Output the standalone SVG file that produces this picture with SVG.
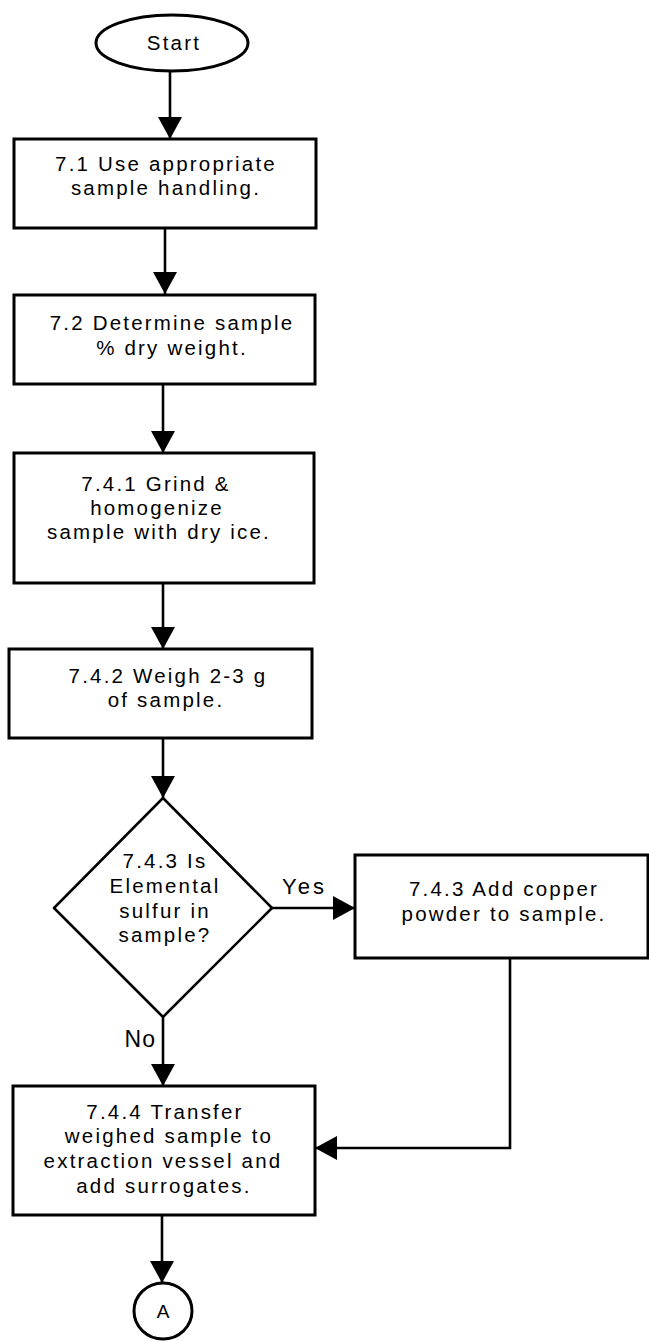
<svg xmlns="http://www.w3.org/2000/svg" width="649" height="1341" viewBox="0 0 649 1341">
<defs>
<style>
.shape{fill:#fff;stroke:#000;stroke-width:3}
.dia{fill:#fff;stroke:#000;stroke-width:2.5;stroke-linejoin:round}
.conn{fill:none;stroke:#000;stroke-width:2.6}
text{font-family:"Liberation Sans",Arial,sans-serif;fill:#000}
.t{font-size:20.5px;letter-spacing:2.2px;text-anchor:middle}
.lbl{font-size:22px;letter-spacing:3px}
</style>
<marker id="ah" markerUnits="userSpaceOnUse" markerWidth="24" markerHeight="24" refX="22" refY="12" orient="auto" viewBox="0 0 24 24">
<path d="M0,0 L22,12 L0,24 Z" fill="#000"/>
</marker>
</defs>
<g id="connectors">
<line class="conn" x1="170" y1="71" x2="170" y2="139" marker-end="url(#ah)"/>
<line class="conn" x1="165" y1="228" x2="165" y2="294" marker-end="url(#ah)"/>
<line class="conn" x1="163" y1="384" x2="163" y2="453" marker-end="url(#ah)"/>
<line class="conn" x1="163" y1="583" x2="163" y2="649" marker-end="url(#ah)"/>
<line class="conn" x1="163" y1="738" x2="163" y2="798" marker-end="url(#ah)"/>
<line class="conn" x1="272" y1="908" x2="355" y2="908" marker-end="url(#ah)"/>
<line class="conn" x1="163" y1="1017" x2="163" y2="1086" marker-end="url(#ah)"/>
<path class="conn" d="M510,958 V1148 H315" marker-end="url(#ah)"/>
<line class="conn" x1="162" y1="1215" x2="162" y2="1283" marker-end="url(#ah)"/>
<text class="lbl" x="282" y="894">Yes</text>
<text class="lbl" x="156" y="1047" text-anchor="end" style="font-size:23px;letter-spacing:1px">No</text>
</g>
<g id="start">
<ellipse class="shape" cx="172" cy="43" rx="76" ry="28" stroke-width="2.5"/>
<text class="t" x="174" y="50">Start</text>
</g>
<g id="n71">
<rect class="shape" x="14" y="139" width="302" height="89"/>
<text class="t" x="166" y="171">7.1 Use appropriate</text>
<text class="t" x="166" y="195">sample handling.</text>
</g>
<g id="n72">
<rect class="shape" x="14" y="295" width="301" height="89"/>
<text class="t" x="172" y="330">7.2 Determine sample</text>
<text class="t" x="172" y="355">% dry weight.</text>
</g>
<g id="n741">
<rect class="shape" x="14" y="453" width="300" height="130"/>
<text class="t" x="156" y="491">7.4.1 Grind &amp;</text>
<text class="t" x="157" y="515">homogenize</text>
<text class="t" x="159" y="539">sample with dry ice.</text>
</g>
<g id="n742">
<rect class="shape" x="9" y="649" width="303" height="89"/>
<text class="t" x="168" y="683">7.4.2 Weigh 2-3 g</text>
<text class="t" x="166" y="707">of sample.</text>
</g>
<g id="n743q">
<polygon class="dia" points="163,798 272,908 163,1017 54,908"/>
<text class="t" x="165" y="868">7.4.3 Is</text>
<text class="t" x="165" y="893">Elemental</text>
<text class="t" x="165" y="918">sulfur in</text>
<text class="t" x="165" y="942">sample?</text>
</g>
<g id="n743a">
<rect class="shape" x="355" y="855" width="293" height="103"/>
<text class="t" x="504" y="896">7.4.3 Add copper</text>
<text class="t" x="504" y="921">powder to sample.</text>
</g>
<g id="n744">
<rect class="shape" x="13" y="1086" width="302" height="129"/>
<text class="t" x="165" y="1119">7.4.4 Transfer</text>
<text class="t" x="169" y="1143">weighed sample to</text>
<text class="t" x="163" y="1168">extraction vessel and</text>
<text class="t" x="164" y="1193">add surrogates.</text>
</g>
<g id="connA">
<ellipse class="shape" cx="163" cy="1311" rx="29" ry="28" stroke-width="2.5"/>
<text x="163" y="1318" text-anchor="middle" style="font-size:19px">A</text>
</g>
</svg>
